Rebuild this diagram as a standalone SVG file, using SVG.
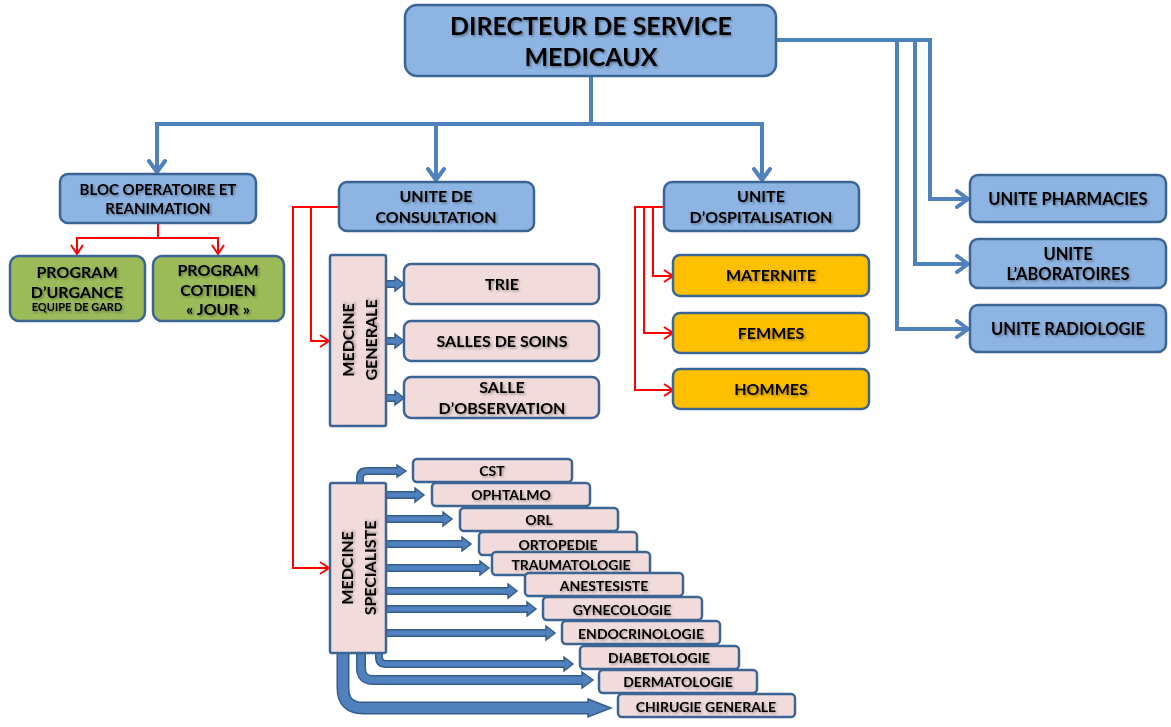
<svg xmlns="http://www.w3.org/2000/svg" width="1171" height="727" viewBox="0 0 1171 727">
  <defs>
    <filter id="tshadow" x="-10%" y="-30%" width="120%" height="160%">
      <feDropShadow dx="1.5" dy="1.5" stdDeviation="0.9" flood-color="#000" flood-opacity="0.35"/>
    </filter>
    <marker id="vBlue" markerUnits="userSpaceOnUse" markerWidth="16" markerHeight="20" refX="13" refY="10" orient="auto" viewBox="0 0 16 20">
      <path d="M2,2 L13,10 L2,18" fill="none" stroke="#4F81BD" stroke-width="4" stroke-linecap="round" stroke-linejoin="miter"/>
    </marker>
    <marker id="vRed" markerUnits="userSpaceOnUse" markerWidth="12" markerHeight="14" refX="10" refY="7" orient="auto" viewBox="0 0 12 14">
      <path d="M1,1 L10,7 L1,13" fill="none" stroke="#FF0000" stroke-width="2"/>
    </marker>
    <style>
      .box { stroke: #3B6594; stroke-width: 2.5; }
      .blue { fill: #8DB4E2; }
      .pink { fill: #F2DCDB; }
      .gold { fill: #FFC000; }
      .green { fill: #9BBB59; }
      text { font-family: Lato, "Open Sans", "Liberation Sans", sans-serif; font-weight: bold; fill: #000; text-anchor: middle; filter: url(#tshadow); }
      .t25 { font-size: 25px; }
      .t17 { font-size: 16.5px; }
      .t16 { font-size: 16px; }
      .t15 { font-size: 15px; }
      .t14 { font-size: 14px; }
      .t11 { font-size: 11px; }
      .cb { fill: none; stroke: #4F81BD; stroke-width: 4; marker-end: url(#vBlue); }
      .cbn { fill: none; stroke: #4F81BD; stroke-width: 4; }
      .cr { fill: none; stroke: #FF0000; stroke-width: 2; marker-end: url(#vRed); }
      .ba-o { fill: none; stroke: #385D8A; stroke-width: 8; }
      .ba-i { fill: none; stroke: #4F81BD; stroke-width: 5; }
      .ba-h { fill: #4F81BD; stroke: #385D8A; stroke-width: 1.5; stroke-linejoin: miter; }
    </style>
  </defs>

  <rect width="1171" height="727" fill="#FFFFFF"/>

  <!-- connectors -->
  <g id="connectors">
    <!-- director to main units -->
    <path class="cbn" d="M591,76 V124"/>
    <path class="cb" d="M591,124 H157 V172"/>
    <path class="cb" d="M436,124 V180"/>
    <path class="cb" d="M591,124 H762 V180"/>
    <!-- director to side units -->
    <path class="cb" d="M776,40 H930 V199 H968"/>
    <path class="cb" d="M915,40 V264 H968"/>
    <path class="cb" d="M897,40 V329 H968"/>

    <!-- bloc operatoire programs -->
    <path class="cr" d="M158,223 V238 H77 V254"/>
    <path class="cr" d="M158,238 H218 V254"/>

    <!-- consultation branches -->
    <path class="cr" d="M339,207 H293 V568 H329"/>
    <path class="cr" d="M311,207 V341 H329"/>

    <!-- hospitalisation branches -->
    <path class="cr" d="M664,207 H635 V390 H673"/>
    <path class="cr" d="M644,207 V333 H673"/>
    <path class="cr" d="M653,207 V276 H673"/>

    <!-- medecine generale block arrows -->
    <path class="ba-o" d="M386,284 H395"/><polygon class="ba-h" points="395,277 404,284 395,291"/><path class="ba-i" d="M386,284 H397"/>
    <path class="ba-o" d="M386,341 H395"/><polygon class="ba-h" points="395,334 404,341 395,348"/><path class="ba-i" d="M386,341 H397"/>
    <path class="ba-o" d="M386,398 H395"/><polygon class="ba-h" points="395,391 404,398 395,405"/><path class="ba-i" d="M386,398 H397"/>

    <!-- medecine specialiste block arrows -->
    <path class="ba-o" d="M360,484 V478 Q360,471 367,471 H397"/><polygon class="ba-h" points="397,465 406,471 397,477"/><path class="ba-i" d="M360,484 V478 Q360,471 367,471 H399"/>
    <path class="ba-o" d="M386,495 H415"/><polygon class="ba-h" points="415,488 424,495 415,502"/><path class="ba-i" d="M386,495 H417"/>
    <path class="ba-o" d="M386,519 H443"/><polygon class="ba-h" points="443,512 452,519 443,526"/><path class="ba-i" d="M386,519 H445"/>
    <path class="ba-o" d="M386,544 H462"/><polygon class="ba-h" points="462,537 471,544 462,551"/><path class="ba-i" d="M386,544 H464"/>
    <path class="ba-o" d="M386,568 H480"/><polygon class="ba-h" points="480,561 489,568 480,575"/><path class="ba-i" d="M386,568 H482"/>
    <path class="ba-o" d="M386,591 H508"/><polygon class="ba-h" points="508,584 517,591 508,598"/><path class="ba-i" d="M386,591 H510"/>
    <path class="ba-o" d="M386,609 H527"/><polygon class="ba-h" points="527,602 536,609 527,616"/><path class="ba-i" d="M386,609 H529"/>
    <path class="ba-o" d="M386,633 H546"/><polygon class="ba-h" points="546,626 555,633 546,640"/><path class="ba-i" d="M386,633 H548"/>
    <path class="ba-o" d="M379,652 V657 Q379,664 386,664 H564"/><polygon class="ba-h" points="564,657 573,664 564,671"/><path class="ba-i" d="M379,652 V657 Q379,664 386,664 H566"/>
    <path class="ba-o" d="M361,652 V668 Q361,680 373,680 H582" style="stroke-width:10"/><polygon class="ba-h" points="582,672 593,680 582,688"/><path class="ba-i" d="M361,652 V668 Q361,680 373,680 H584" style="stroke-width:7"/>
    <path class="ba-o" d="M343,652 V688 Q343,708 363,708 H588" style="stroke-width:13"/><polygon class="ba-h" points="588,699 611,708 588,717"/><path class="ba-i" d="M343,652 V688 Q343,708 363,708 H591" style="stroke-width:10"/>
  </g>

  <!-- director -->
  <g id="directeur">
    <rect class="box blue" x="405" y="5" width="371" height="71" rx="12"/>
    <text class="t25" x="591" y="35">DIRECTEUR DE SERVICE</text>
    <text class="t25" x="591" y="66">MEDICAUX</text>
  </g>

  <!-- bloc operatoire -->
  <g id="bloc-operatoire">
    <rect class="box blue" x="60" y="174" width="196" height="49" rx="8"/>
    <text class="t15" x="158" y="195">BLOC OPERATOIRE ET</text>
    <text class="t15" x="158" y="214">REANIMATION</text>
  </g>
  <g id="program-urgance">
    <rect class="box green" x="10" y="256" width="135" height="65" rx="9"/>
    <text class="t16" x="77" y="278">PROGRAM</text>
    <text class="t16" x="77" y="298">D’URGANCE</text>
    <text class="t11" x="77" y="311">EQUIPE DE GARD</text>
  </g>
  <g id="program-cotidien">
    <rect class="box green" x="153" y="256" width="131" height="65" rx="9"/>
    <text class="t16" x="218" y="276">PROGRAM</text>
    <text class="t16" x="218" y="296">COTIDIEN</text>
    <text class="t16" x="218" y="315">« JOUR »</text>
  </g>

  <!-- consultation -->
  <g id="unite-consultation">
    <rect class="box blue" x="339" y="182" width="195" height="49" rx="8"/>
    <text class="t16" x="436" y="202">UNITE DE</text>
    <text class="t16" x="436" y="223">CONSULTATION</text>
  </g>
  <g id="medcine-generale">
    <rect class="box pink" x="330" y="255" width="56" height="171" rx="2"/>
    <text class="t16" transform="translate(354,340) rotate(-90)">MEDCINE</text>
    <text class="t16" transform="translate(377,340) rotate(-90)">GENERALE</text>
  </g>
  <g id="trie">
    <rect class="box pink" x="404" y="264" width="195" height="40" rx="7"/>
    <text class="t16" x="502" y="290">TRIE</text>
  </g>
  <g id="salles-de-soins">
    <rect class="box pink" x="404" y="321" width="195" height="40" rx="7"/>
    <text class="t16" x="502" y="347">SALLES DE SOINS</text>
  </g>
  <g id="salle-observation">
    <rect class="box pink" x="404" y="377" width="195" height="41" rx="7"/>
    <text class="t16" x="502" y="393">SALLE</text>
    <text class="t16" x="502" y="414">D’OBSERVATION</text>
  </g>

  <!-- medecine specialiste -->
  <g id="medcine-specialiste">
    <rect class="box pink" x="330" y="483" width="56" height="170" rx="2"/>
    <text class="t16" transform="translate(353,568) rotate(-90)">MEDCINE</text>
    <text class="t16" transform="translate(376,568) rotate(-90)">SPECIALISTE</text>
  </g>
  <g id="cst"><rect class="box pink" x="413" y="459" width="159" height="23" rx="4"/><text class="t14" x="492" y="476">CST</text></g>
  <g id="ophtalmo"><rect class="box pink" x="432" y="483" width="158" height="23" rx="4"/><text class="t14" x="511" y="500">OPHTALMO</text></g>
  <g id="orl"><rect class="box pink" x="460" y="508" width="158" height="23" rx="4"/><text class="t14" x="539" y="525">ORL</text></g>
  <g id="ortopedie"><rect class="box pink" x="479" y="532" width="158" height="23" rx="4"/><text class="t14" x="558" y="550">ORTOPEDIE</text></g>
  <g id="traumatologie"><rect class="box pink" x="492" y="552" width="158" height="23" rx="4"/><text class="t14" x="571" y="570">TRAUMATOLOGIE</text></g>
  <g id="anestesiste"><rect class="box pink" x="525" y="573" width="158" height="23" rx="4"/><text class="t14" x="604" y="591">ANESTESISTE</text></g>
  <g id="gynecologie"><rect class="box pink" x="543" y="597" width="159" height="23" rx="4"/><text class="t14" x="622" y="615">GYNECOLOGIE</text></g>
  <g id="endocrinologie"><rect class="box pink" x="562" y="621" width="158" height="23" rx="4"/><text class="t14" x="641" y="639">ENDOCRINOLOGIE</text></g>
  <g id="diabetologie"><rect class="box pink" x="580" y="646" width="159" height="23" rx="4"/><text class="t14" x="659" y="663">DIABETOLOGIE</text></g>
  <g id="dermatologie"><rect class="box pink" x="599" y="670" width="158" height="23" rx="4"/><text class="t14" x="678" y="687">DERMATOLOGIE</text></g>
  <g id="chirugie-generale"><rect class="box pink" x="618" y="694" width="177" height="23" rx="4"/><text class="t14" x="706" y="712">CHIRUGIE GENERALE</text></g>

  <!-- hospitalisation -->
  <g id="unite-ospitalisation">
    <rect class="box blue" x="664" y="182" width="195" height="49" rx="8"/>
    <text class="t16" x="761" y="202">UNITE</text>
    <text class="t16" x="761" y="223">D’OSPITALISATION</text>
  </g>
  <g id="maternite">
    <rect class="box gold" x="673" y="255" width="196" height="41" rx="7"/>
    <text class="t16" x="771" y="281">MATERNITE</text>
  </g>
  <g id="femmes">
    <rect class="box gold" x="673" y="313" width="196" height="40" rx="7"/>
    <text class="t16" x="771" y="339">FEMMES</text>
  </g>
  <g id="hommes">
    <rect class="box gold" x="673" y="369" width="196" height="40" rx="7"/>
    <text class="t16" x="771" y="395">HOMMES</text>
  </g>

  <!-- side units -->
  <g id="unite-pharmacies">
    <rect class="box blue" x="970" y="175" width="196" height="47" rx="8"/>
    <text class="t17" x="1068" y="205">UNITE PHARMACIES</text>
  </g>
  <g id="unite-laboratoires">
    <rect class="box blue" x="970" y="239" width="196" height="49" rx="8"/>
    <text class="t17" x="1068" y="260">UNITE</text>
    <text class="t17" x="1068" y="280">L’ABORATOIRES</text>
  </g>
  <g id="unite-radiologie">
    <rect class="box blue" x="970" y="305" width="196" height="47" rx="8"/>
    <text class="t17" x="1068" y="335">UNITE RADIOLOGIE</text>
  </g>
</svg>
